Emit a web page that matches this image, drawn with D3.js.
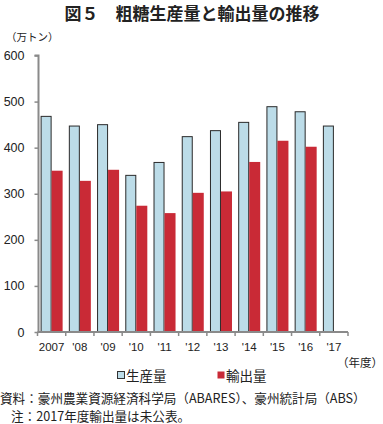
<!DOCTYPE html>
<html><head><meta charset="utf-8">
<script src="https://cdn.jsdelivr.net/npm/d3@7"></script>
<style>
body{margin:0;background:#fff;}
svg{display:block;}
</style></head>
<body>
<svg id="c" width="383" height="424"></svg>
<script>
const years = ["2007","'08","'09","'10","'11","'12","'13","'14","'15","'16","'17"];
const production = [469,448,451,341,369,425,438,456,490,479,448];
const exports = [350,328,352,274,258,302,305,369,415,402,null];
const yTicks = [0,100,200,300,400,500,600];
const seriesNames = ["生産量","輸出量"];
const seriesColors = ["#bcdce8","#c92a36"];

const svg = d3.select("#c");
const fontCJK = "'Noto Sans CJK JP','Noto Sans',sans-serif";
const fontNum = "'Liberation Sans',Arial,sans-serif";

const x0 = 37.5, x1 = 348, yTop = 55.5, yBot = 332;
const x = d3.scaleBand().domain(years).range([x0,x1]).paddingInner(0.22).paddingOuter(0.11);
const xs = d3.scaleBand().domain([0,1]).range([0,x.bandwidth()]);
const y = d3.scaleLinear().domain([0,600]).range([yBot,yTop]);

// title
svg.append("text").attr("x",192).attr("y",20).attr("text-anchor","middle")
  .attr("font-family",fontCJK).attr("font-weight","bold").attr("font-size",17)
  .attr("fill","#222").text("図５　粗糖生産量と輸出量の推移");
// unit
svg.append("text").attr("x",6).attr("y",41).attr("font-family",fontCJK)
  .attr("font-size",10.5).attr("fill","#222").text("（万トン）");

// bars
const data = years.map((yr,i)=>({yr, vals:[production[i],exports[i]]}));
const g = svg.append("g");
data.forEach(d=>{
  d.vals.forEach((v,j)=>{
    if(v==null) return;
    g.append("rect")
      .attr("x", x(d.yr)+xs(j)+(j===0?0.5:0))
      .attr("y", y(v)+(j===0?0.5:0))
      .attr("width", xs.bandwidth()-(j===0?1:0))
      .attr("height", yBot-y(v)-(j===0?0.5:0))
      .attr("fill", seriesColors[j])
      .attr("stroke", j===0?"#2a2a2a":"none")
      .attr("stroke-width", j===0?1:0);
  });
});

// y axis
const yAxis = d3.axisLeft(y).tickValues(yTicks).tickSize(4).tickPadding(10);
const ga = svg.append("g").attr("transform",`translate(${x0+1},0)`).call(yAxis);
ga.select(".domain").attr("stroke","#8a8a8a").attr("stroke-width",2).attr("d",`M-4,${yTop}H0V${yBot}`);
ga.selectAll(".tick line").attr("stroke","#8a8a8a").attr("stroke-width",1.5);
ga.selectAll(".tick text").attr("font-family",fontNum).attr("font-size",12.5).attr("fill","#222");

// x axis
const gx = svg.append("g").attr("transform",`translate(0,${yBot})`);
gx.append("line").attr("x1",x0).attr("x2",x1).attr("y1",0).attr("y2",0)
  .attr("stroke","#8a8a8a").attr("stroke-width",2);
const step = x.step();
d3.range(years.length+1).forEach(i=>{
  const px = x0 + i*step;
  gx.append("line").attr("x1",px).attr("x2",px).attr("y1",0).attr("y2",4)
    .attr("stroke","#8a8a8a").attr("stroke-width",1.5);
});
years.forEach(yr=>{
  gx.append("text").attr("x",x(yr)+x.bandwidth()/2).attr("y",19).attr("text-anchor","middle")
    .attr("font-family",fontNum).attr("font-size",11.5).attr("fill","#222").text(yr);
});
svg.append("text").attr("x",383).attr("y",367).attr("text-anchor","end")
  .attr("font-family",fontCJK).attr("font-size",11.5).attr("fill","#222").text("（年度）");

// legend
const legX = [117,217];
seriesNames.forEach((n,j)=>{
  svg.append("rect").attr("x",legX[j]+0.5).attr("y",371.5).attr("width",7).attr("height",7)
    .attr("fill",seriesColors[j]).attr("stroke",j===0?"#333":"none").attr("stroke-width",1);
  svg.append("text").attr("x",legX[j]+9).attr("y",381).attr("font-family",fontCJK)
    .attr("font-size",13.5).attr("fill","#222").text(n);
});

// notes
svg.append("text").attr("x",0).attr("y",403).attr("font-family",fontCJK)
  .attr("font-size",12.6).attr("fill","#222").text("資料：豪州農業資源経済科学局（ABARES）、豪州統計局（ABS）");
svg.append("text").attr("x",11).attr("y",421).attr("font-family",fontCJK)
  .attr("font-size",12.6).attr("fill","#222").text("注：2017年度輸出量は未公表。");
</script>
</body></html>
